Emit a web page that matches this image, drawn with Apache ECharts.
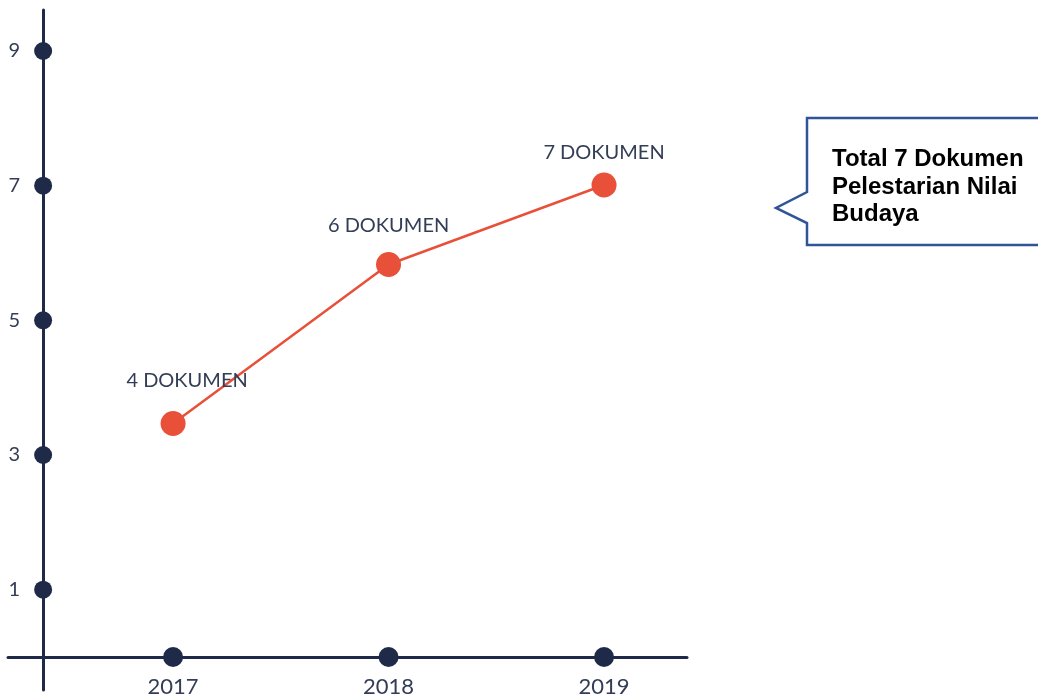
<!DOCTYPE html>
<html>
<head>
<meta charset="utf-8">
<title>Dokumen Pelestarian Nilai Budaya</title>
<script src="https://cdn.jsdelivr.net/npm/echarts@6/dist/echarts.min.js"></script>
<style>
  html, body { margin: 0; padding: 0; background: #ffffff; }
  #chart { width: 1038px; height: 699px; }
</style>
</head>
<body>
<div id="chart"></div>
<script>
// Years on the horizontal axis and number of documents per year
const years = [2017, 2018, 2019];
const documents = [4, 6, 7];
// Marker values shown along the vertical axis
const yTicks = [1, 3, 5, 7, 9];
const labelSuffix = ' DOKUMEN';
const calloutLines = ['Total 7 Dokumen', 'Pelestarian Nilai', 'Budaya'];

const NAVY = '#1f2a48';
const RED = '#e8503a';
const TEXT = '#333d55';

// Axis extents
const X_MIN = 2016.234, X_MAX = 2019.385;
const Y_AXIS_X = 2016.397;           // where the vertical axis sits on the x scale
const Y_MIN = -0.49, Y_MAX = 9.609;   // marker axis
const D_MIN = 0.648, D_MAX = 9.201;   // document count axis

// Small per-label nudges for the value labels
const labelNudges = [[14, -4], [0, 0], [0, 6]];

const chart = echarts.init(document.getElementById('chart'), null, { renderer: 'canvas' });

const lineData = years.map((y, i) => ({
  value: [y, documents[i]],
  label: { offset: labelNudges[i] }
}));

const option = {
  backgroundColor: '#ffffff',
  animation: false,
  grid: { left: 8, right: 351, top: 10, bottom: 9, containLabel: false, outerBoundsMode: 'none' },
  xAxis: {
    type: 'value',
    min: X_MIN,
    max: X_MAX,
    axisLine: { show: true, onZero: true, onZeroAxisIndex: 0, lineStyle: { color: NAVY, width: 3 } },
    axisTick: { show: false },
    splitLine: { show: false },
    axisLabel: {
      customValues: years,
      formatter: v => String(Math.round(v)),
      color: TEXT,
      fontFamily: 'Lato',
      fontSize: 22,
      lineHeight: 22,
      margin: -14
    }
  },
  yAxis: [
    {
      type: 'value',
      min: Y_MIN,
      max: Y_MAX,
      offset: -35,
      axisLine: { show: true, lineStyle: { color: NAVY, width: 3 } },
      axisTick: { show: false },
      splitLine: { show: false },
      axisLabel: {
        customValues: yTicks,
        color: TEXT,
        fontFamily: 'Lato',
        fontSize: 20,
        margin: 23
      }
    },
    {
      type: 'value',
      min: D_MIN,
      max: D_MAX,
      show: false,
      splitLine: { show: false }
    }
  ],
  series: [
    {
      // markers on the vertical axis
      type: 'scatter',
      yAxisIndex: 0,
      symbolSize: 18,
      itemStyle: { color: NAVY, opacity: 1 },
      data: yTicks.map(t => [Y_AXIS_X, t]),
      silent: true,
      z: 3
    },
    {
      // markers on the horizontal axis
      type: 'scatter',
      yAxisIndex: 0,
      symbolSize: 20,
      itemStyle: { color: NAVY, opacity: 1 },
      data: years.map(y => [y, 0]),
      silent: true,
      z: 3
    },
    {
      type: 'line',
      yAxisIndex: 1,
      data: lineData,
      symbol: 'circle',
      symbolSize: 25,
      lineStyle: { color: RED, width: 2.5 },
      itemStyle: { color: RED, opacity: 1 },
      label: {
        show: true,
        position: 'top',
        distance: 16,
        formatter: p => p.value[1] + labelSuffix,
        color: TEXT,
        fontFamily: 'Lato',
        fontSize: 20
      },
      z: 4
    }
  ],
  graphic: [
    {
      type: 'polygon',
      shape: {
        points: [[1042, 118], [807, 118], [807, 192], [776, 208], [807, 223], [807, 245], [1042, 245]]
      },
      style: { fill: '#ffffff', stroke: '#2f5597', lineWidth: 2.5 },
      z: 10
    },
    {
      type: 'text',
      left: 832,
      top: 146,
      style: {
        text: calloutLines.join('\n'),
        fill: '#000000',
        font: 'bold 24px "Liberation Sans", Arial, sans-serif',
        lineHeight: 27.5
      },
      z: 11
    }
  ]
};

chart.setOption(option);
</script>
</body>
</html>
